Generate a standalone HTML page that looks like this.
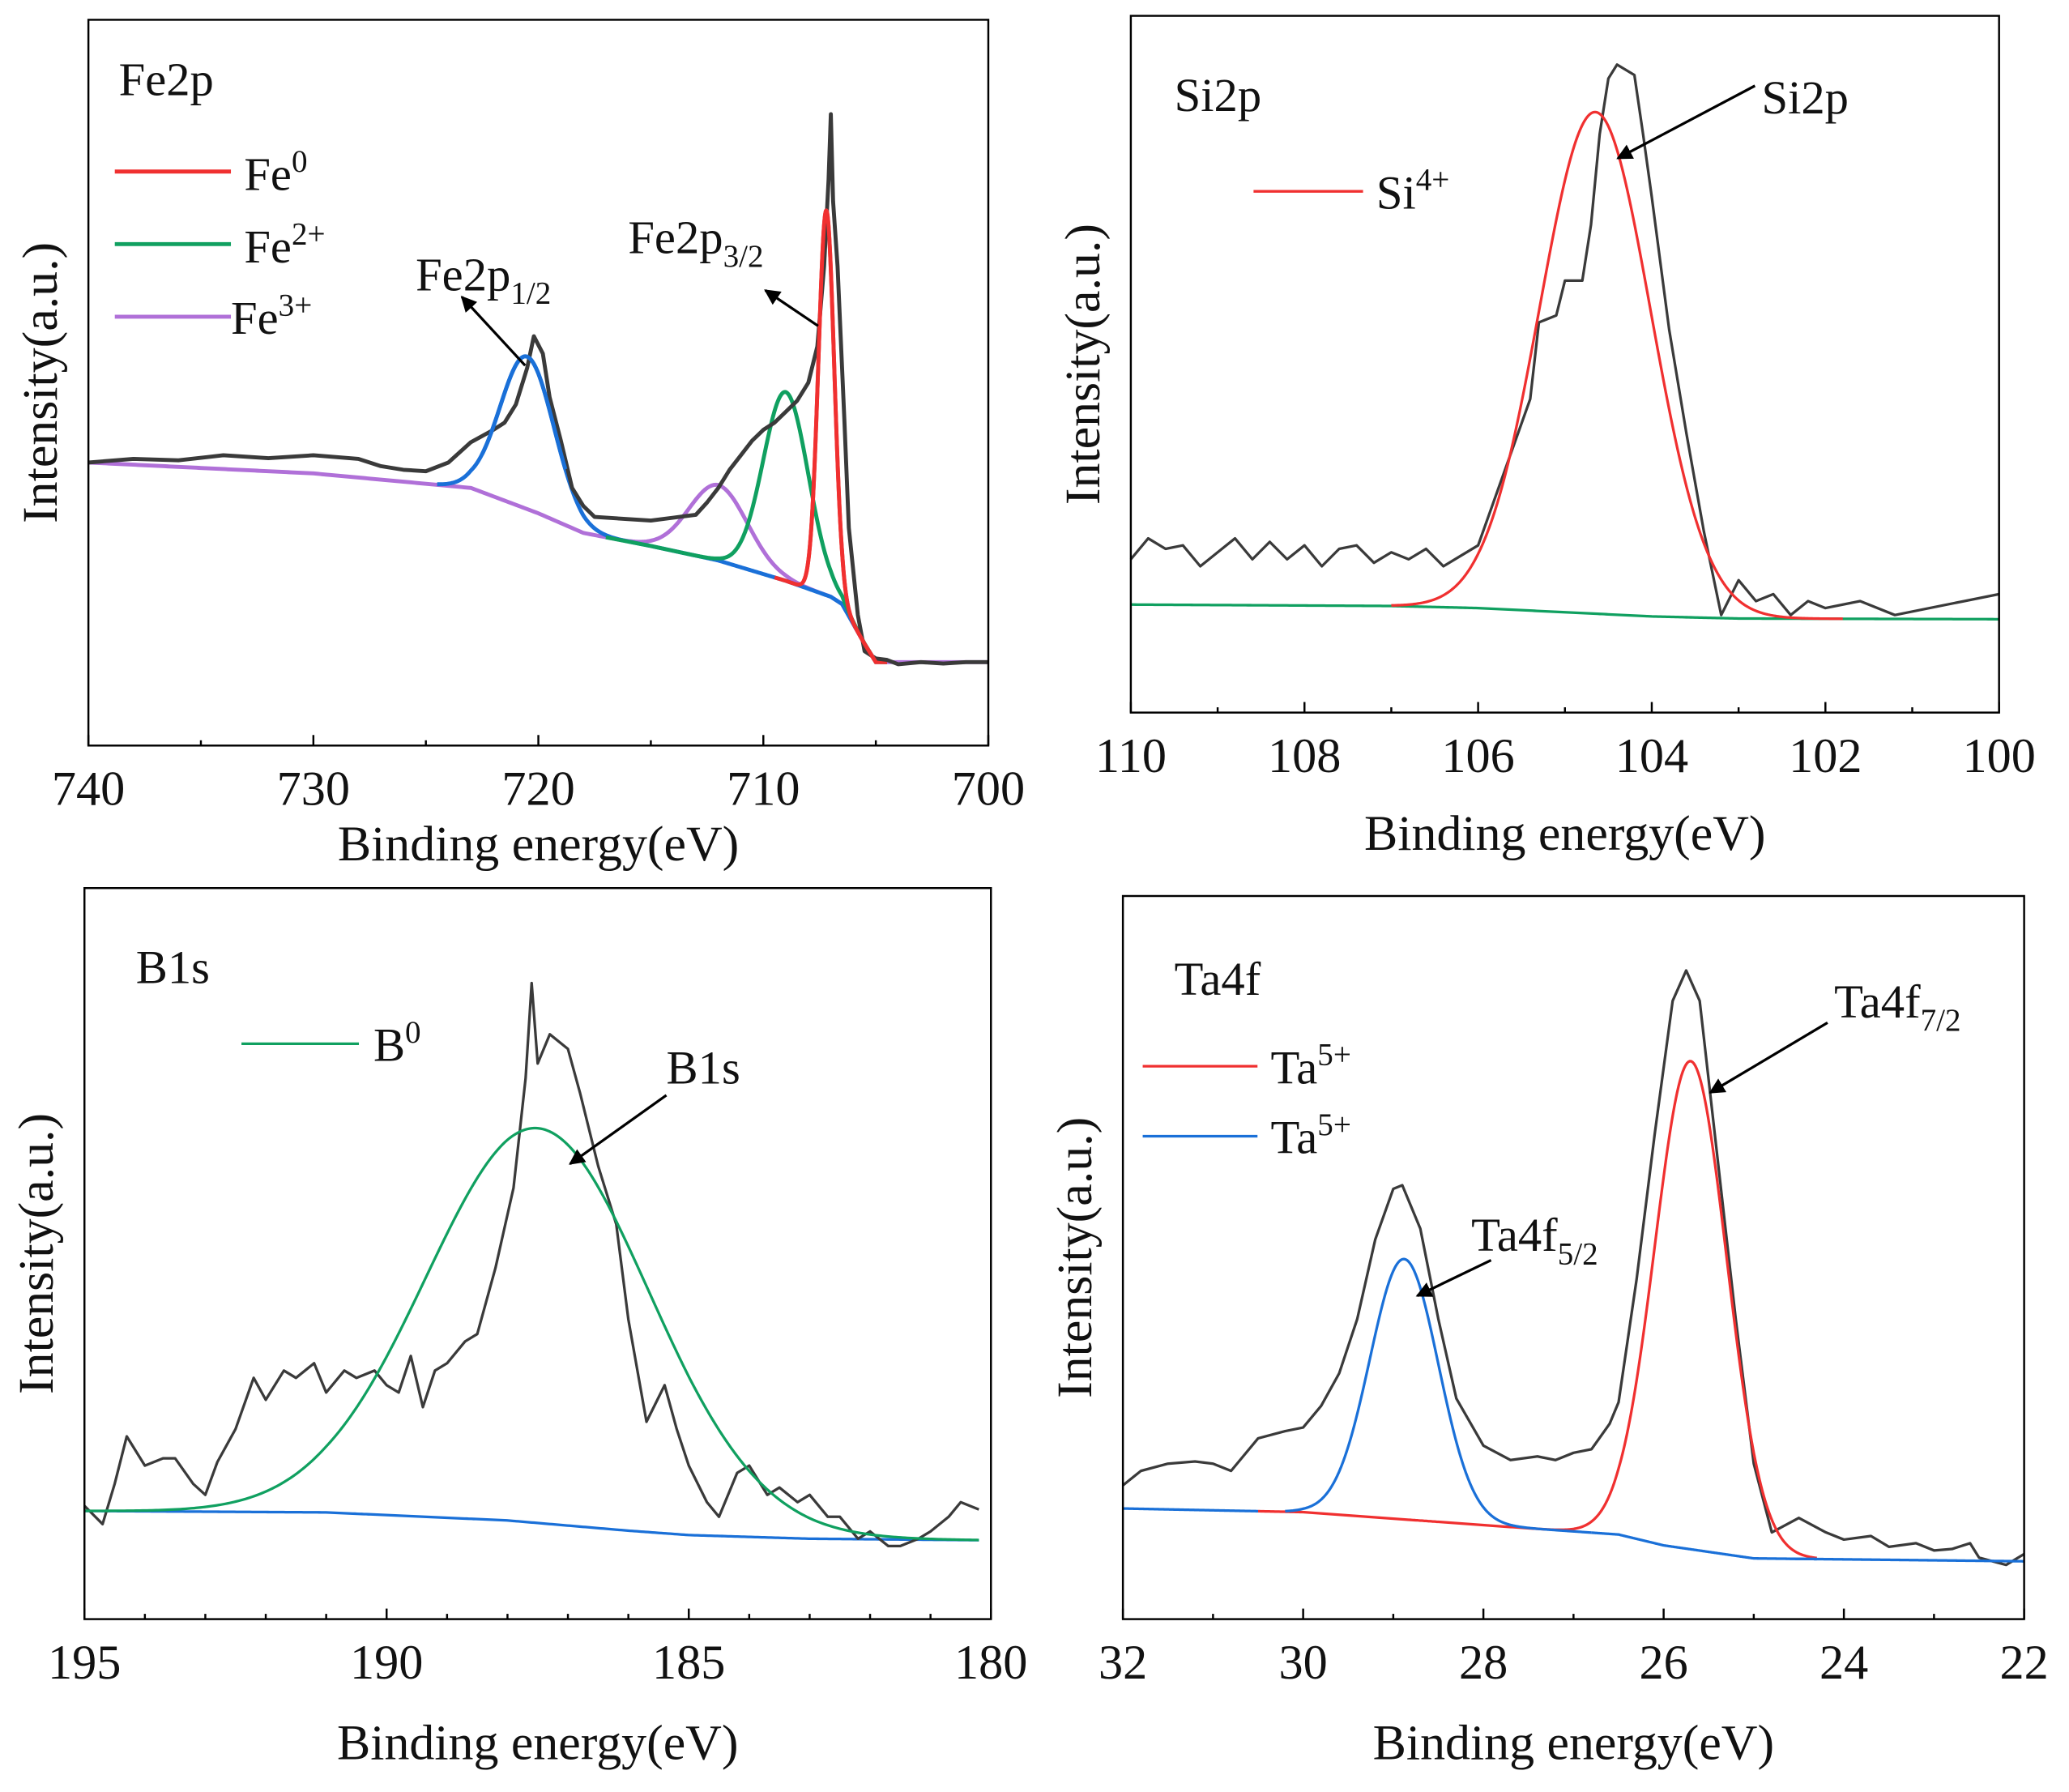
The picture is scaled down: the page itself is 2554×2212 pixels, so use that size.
<!DOCTYPE html>
<html><head><meta charset="utf-8"><style>
html,body{margin:0;padding:0;background:#fff}
svg{display:block}
text{font-family:"Liberation Serif",serif;fill:#111}
</style></head><body>
<svg id="fig" width="2554" height="2212" viewBox="0 0 1568 1358" preserveAspectRatio="none" xmlns="http://www.w3.org/2000/svg">
<defs><marker id="ah" viewBox="0 0 10 10" refX="9" refY="5" markerWidth="6" markerHeight="6" orient="auto"><path d="M0,0L10,5L0,10z" fill="#000"/></marker></defs>
<g id="layer"></g>
<g font-size="36">
<text x="90" y="72">Fe2p</text>
<line x1="87" y1="130" x2="175" y2="130" stroke="#f03030" stroke-width="3"/>
<text x="185" y="144">Fe<tspan dy="-14" font-size="24">0</tspan></text>
<line x1="87" y1="185" x2="175" y2="185" stroke="#10a060" stroke-width="3"/>
<text x="185" y="199">Fe<tspan dy="-14" font-size="24">2+</tspan></text>
<line x1="87" y1="240" x2="175" y2="240" stroke="#b070d8" stroke-width="3"/>
<text x="175" y="253">Fe<tspan dy="-14" font-size="24">3+</tspan></text>
<text x="315" y="220">Fe2p<tspan dy="10" font-size="24">1/2</tspan></text>
<line x1="398" y1="277" x2="350" y2="225" stroke="#000" stroke-width="2" marker-end="url(#ah)"/>
<text x="476" y="192">Fe2p<tspan dy="10" font-size="24">3/2</tspan></text>
<line x1="620" y1="247" x2="580" y2="220" stroke="#000" stroke-width="2" marker-end="url(#ah)"/>

<text x="890" y="84">Si2p</text>
<line x1="950" y1="145" x2="1033" y2="145" stroke="#f03030" stroke-width="2"/>
<text x="1043" y="158">Si<tspan dy="-14" font-size="24">4+</tspan></text>
<text x="1335" y="86">Si2p</text>
<line x1="1330" y1="65" x2="1226" y2="120" stroke="#000" stroke-width="2" marker-end="url(#ah)"/>

<text x="103" y="745">B1s</text>
<line x1="183" y1="791" x2="272" y2="791" stroke="#10a060" stroke-width="2"/>
<text x="283" y="804">B<tspan dy="-14" font-size="24">0</tspan></text>
<text x="505" y="821">B1s</text>
<line x1="505" y1="830" x2="432" y2="882" stroke="#000" stroke-width="2" marker-end="url(#ah)"/>

<text x="890" y="754">Ta4f</text>
<line x1="866" y1="808" x2="953" y2="808" stroke="#f03030" stroke-width="2"/>
<text x="963" y="821">Ta<tspan dy="-14" font-size="24">5+</tspan></text>
<line x1="866" y1="861" x2="953" y2="861" stroke="#1a70d8" stroke-width="2"/>
<text x="963" y="874">Ta<tspan dy="-14" font-size="24">5+</tspan></text>
<text x="1390" y="771">Ta4f<tspan dy="10" font-size="24">7/2</tspan></text>
<line x1="1385" y1="775" x2="1296" y2="828" stroke="#000" stroke-width="2" marker-end="url(#ah)"/>
<text x="1115" y="948">Ta4f<tspan dy="10" font-size="24">5/2</tspan></text>
<line x1="1130" y1="955" x2="1074" y2="982" stroke="#000" stroke-width="2" marker-end="url(#ah)"/>
</g>
</svg>
<script>
// ---- Fe2p data ----
const feRawX=[740,738,736,734,732,730,728,727,726,725,724,723,722,721.5,721,720.5,720.2,719.8,719.5,719,718.5,718,717.5,716,715,714,713,712.5,712,711.5,711,710.5,710,709.5,709,708.5,708,707.6,707.3,707.1,707,706.9,706.7,706.4,706.2,705.8,705.5,705,704.5,704,703,702,701,700];
const feRawY=[39,39.5,39.3,40,39.6,40,39.5,38.5,38,37.8,39,41.8,43.5,44.5,47,52,56.4,54,48,42,35.5,33,31.5,31.2,31,31.4,31.8,33.5,35.5,38,40,42,43.5,44.5,46,47.5,50,55,66,78,87,75,66,45,30,18,13,12,11.8,11.2,11.5,11.3,11.5,11.5];
const feBgX=[740,730,723,720,718,715,712,709,707,706.5,705.5,705,700];
const feBgY=[39,37.5,35.5,32,29.3,27.5,25.5,22.7,20.5,19.5,14,11.5,11.5];
const feNames=["fe2p12","fe3","fe2","fe0"];
const feCenters=[720.5,712,709,707.2];
const feHeights=[21,10.4,26,53];
const feSigmas=[1.2,1.3,1.0,0.35];
// ---- Si2p data ----
const siRawX=[110,109.8,109.6,109.4,109.2,109,108.8,108.6,108.4,108.2,108,107.8,107.6,107.4,107.2,107,106.8,106.6,106.4,106.2,106,105.8,105.6,105.4,105.3,105.1,105,104.8,104.7,104.6,104.5,104.4,104.2,104.1,104,103.8,103.6,103.4,103.2,103,102.8,102.6,102.4,102.2,102,101.6,101.2,100.8,100.4,100];
const siRawY=[22,25,23.5,24,21,23,25,22,24.5,22,24,21,23.5,24,21.5,23,22,23.5,21,22.5,24,31,38,45,56,57,62,62,70,83,91,93,91.5,83,74,55,40,26,14,19,16,17,14,16,15,16,14,15,16,17];
const siBgX=[110,107,106,105,104,103,100];
const siBgY=[15.5,15.3,15,14.4,13.8,13.5,13.4];
const siCenters=[104.65];
const siHeights=[72];
const siSigmas=[0.64];
// ---- B1s data ----
const bRawX=[195,194.7,194.5,194.3,194,193.7,193.5,193.2,193,192.8,192.5,192.2,192,191.7,191.5,191.2,191,190.7,190.5,190.2,190,189.8,189.6,189.4,189.2,189,188.7,188.5,188.2,187.9,187.7,187.6,187.5,187.3,187,186.8,186.5,186.2,186,185.7,185.4,185.2,185,184.7,184.5,184.2,184,183.7,183.5,183.2,183,182.7,182.5,182.2,182,181.7,181.5,181.2,181,180.7,180.5,180.2];
const bRawY=[15.5,13,18.5,25,21,22,22,18.5,17,21.5,26,33,30,34,33,35,31,34,33,34,32,31,36,29,34,35,38,39,48,59,74,87,76,80,78,72,62,54,41,27,32,26,21,16,14,20,21,17,18,16,17,14,14,11,12,10,10,11,12,14,16,15];
const bBgX=[195,191,188,186,185,183,180.2];
const bBgY=[14.8,14.6,13.5,12.1,11.5,11,10.8];
const bCenters=[187.5];
const bHeights=[54];
const bSigmas=[1.85];
// ---- Ta4f data ----
const taRawX=[32,31.8,31.5,31.2,31,30.8,30.5,30.2,30,29.8,29.6,29.4,29.2,29,28.9,28.7,28.5,28.3,28,27.7,27.4,27.2,27,26.8,26.6,26.5,26.3,26.1,25.9,25.75,25.6,25.4,25.2,25,24.8,24.5,24.2,24,23.7,23.5,23.2,23,22.8,22.6,22.5,22.2,22];
const taRawY=[18.5,20.5,21.5,21.8,21.5,20.5,25,26,26.5,29.5,34,41.5,52.5,59.5,60,54,41.5,30.5,24,22,22.5,22,23,23.5,27,30,47,67,85.5,89.7,85.5,63.5,41.5,21.5,12,14,12,11,11.5,10,10.5,9.5,9.7,10.5,8.5,7.5,9];
const taBgX=[32,30,28,26.5,26,25,22];
const taBgY=[15.3,14.8,13,11.7,10.2,8.4,8];
const taNames=["ta4f72","ta4f52"];
const taCenters=[25.7,28.88];
const taHeights=[67.5,36];
const taSigmas=[0.4,0.38];
// tick labels
const feTicks=[740,730,720,710,700];
const siTicks=[110,108,106,104,102,100];
const bTicks=[195,190,185,180];
const taTicks=[32,30,28,26,24,22];

const NS="http://www.w3.org/2000/svg";
const layer=document.getElementById("layer");
function mk(tag,attrs,parent){const e=document.createElementNS(NS,tag);for(const k in attrs)e.setAttribute(k,attrs[k]);(parent||layer).appendChild(e);return e;}
function interp(xs,ys,x){for(let i=0;i<xs.length-1;i++){const a=xs[i],b=xs[i+1];if((x<=a&&x>=b)||(x>=a&&x<=b)){const t=(x-a)/(b-a);return ys[i]+t*(ys[i+1]-ys[i]);}}return x>xs[0]===xs[0]>xs[xs.length-1]?ys[0]:ys[ys.length-1];}
function gauss(x,c,h,s){return h*Math.exp(-0.5*((x-c)/s)**2);}

function panel(p){
  const g=mk("g",{});
  
  
  const sx=x=>p.L+(p.x0-x)/(p.x0-p.x1)*(p.R-p.L);
  const sy=v=>p.B-v/100*(p.B-p.T);
  function path(fn,xa,xb,color,w,name){
    let d="";const n=400;
    for(let i=0;i<=n;i++){const x=xa+(xb-xa)*i/n;d+=(i?"L":"M")+sx(x).toFixed(2)+","+sy(fn(x)).toFixed(2);}
    const e=mk("path",{d:d,fill:"none",stroke:color,"stroke-width":w},g);
    
    
  }
  const bg=x=>interp(p.bgX,p.bgY,x);
  p.draw(path,bg);
  let d="";p.rawX.forEach((x,i)=>{d+=(i?"L":"M")+sx(x).toFixed(2)+","+sy(p.rawY[i]).toFixed(2);});
  const raw=mk("path",{d:d,fill:"none",stroke:"#3a3a3a","stroke-width":p.rawW,"stroke-linejoin":"round"},g);
  
  
  if(p.after)p.after(path,bg);
  const box=mk("rect",{x:p.L,y:p.T,width:p.R-p.L,height:p.B-p.T,fill:"none",stroke:"#000","stroke-width":1.5},g);
  
  
  const step=p.minor;
  for(let v=Math.min(p.x0,p.x1);v<=Math.max(p.x0,p.x1)+1e-9;v+=step){
    const major=p.ticks.some(t=>Math.abs(t-v)<1e-6);
    const tk=mk("line",{x1:sx(v),x2:sx(v),y1:p.B,y2:p.B-(major?8:4),stroke:"#000","stroke-width":1.5},g);
    
    
  }
  p.ticks.forEach(t=>{
    const tl=mk("text",{x:sx(t),y:p.B+45,"text-anchor":"middle","font-size":37},g);
    tl.textContent=t;
    
    
  });
  const xl=mk("text",{x:(p.L+p.R)/2,y:p.xlY,"text-anchor":"middle","font-size":38},g);
  xl.textContent="Binding energy(eV)";
  
  
  const yl=mk("text",{x:0,y:0,"text-anchor":"middle","font-size":38,transform:`translate(${p.L-24},${(p.T+p.B)/2}) rotate(-90)`},g);
  yl.textContent="Intensity(a.u.)";
  
  
}

panel({name:"fe2p",L:67,R:749,T:15,B:565,x0:740,x1:700,ticks:feTicks,minor:5,xlY:652,rawX:feRawX,rawY:feRawY,bgX:feBgX,bgY:feBgY,rawW:3,
 draw:(path,bg)=>{
  const cols=["#1a70d8","#b070d8","#10a060","#f03030"];
  const order=[1,0,2,3];
  const ranges=[[724.5,705],[740,700],[717,704.5],[709.5,704.5]];
  order.forEach(i=>path(x=>bg(x)+gauss(x,feCenters[i],feHeights[i],feSigmas[i]),ranges[i][0],ranges[i][1],cols[i],3,feNames[i]+'-fit'));
 },
 after:(path,bg)=>{
  path(x=>bg(x)+gauss(x,feCenters[0],feHeights[0],feSigmas[0]),722.5,718.8,"#1a70d8",3,'fe2p12-fit-top');
  path(x=>bg(x)+gauss(x,feCenters[3],feHeights[3],feSigmas[3]),708.2,705,"#f03030",3,'fe0-fit-top');
 }});
panel({name:"si2p",L:857,R:1515,T:12,B:540,x0:110,x1:100,ticks:siTicks,minor:1,xlY:644,rawX:siRawX,rawY:siRawY,bgX:siBgX,bgY:siBgY,rawW:2,
 draw:(path,bg)=>{
  path(bg,110,100,"#10a060",2,'si-background');
 },
 after:(path,bg)=>{
  path(x=>bg(x)+gauss(x,siCenters[0],siHeights[0],siSigmas[0]),107,101.8,"#f03030",2,'si4-fit');
 }});
panel({name:"b1s",L:64,R:751,T:673,B:1227,x0:195,x1:180,ticks:bTicks,minor:1,xlY:1333,rawX:bRawX,rawY:bRawY,bgX:bBgX,bgY:bBgY,rawW:2,
 draw:(path,bg)=>{
  path(bg,195,180.2,"#1a70d8",2,'b-background');
 },
 after:(path,bg)=>{
  path(x=>bg(x)+gauss(x,bCenters[0],bHeights[0],bSigmas[0]),195,180.2,"#10a060",2,'b0-fit');
 }});
panel({name:"ta4f",L:851,R:1534,T:679,B:1227,x0:32,x1:22,ticks:taTicks,minor:1,xlY:1333,rawX:taRawX,rawY:taRawY,bgX:taBgX,bgY:taBgY,rawW:2,
 draw:(path,bg)=>{},
 after:(path,bg)=>{
  path(x=>bg(x)+gauss(x,taCenters[0],taHeights[0],taSigmas[0]),30.5,24.3,"#f03030",2,taNames[0]+'-fit');
  path(x=>bg(x)+gauss(x,taCenters[1],taHeights[1],taSigmas[1]),32,30.5,"#1a70d8",2,'ta-background-left');
  path(x=>bg(x)+gauss(x,taCenters[1],taHeights[1],taSigmas[1]),30.2,26.8,"#1a70d8",2,taNames[1]+'-fit');
  path(bg,26.8,24.3,"#1a70d8",2,'ta-background-mid');
  path(bg,24.6,22,"#1a70d8",2,'ta-background-right');
 }});
</script>
</body></html>
